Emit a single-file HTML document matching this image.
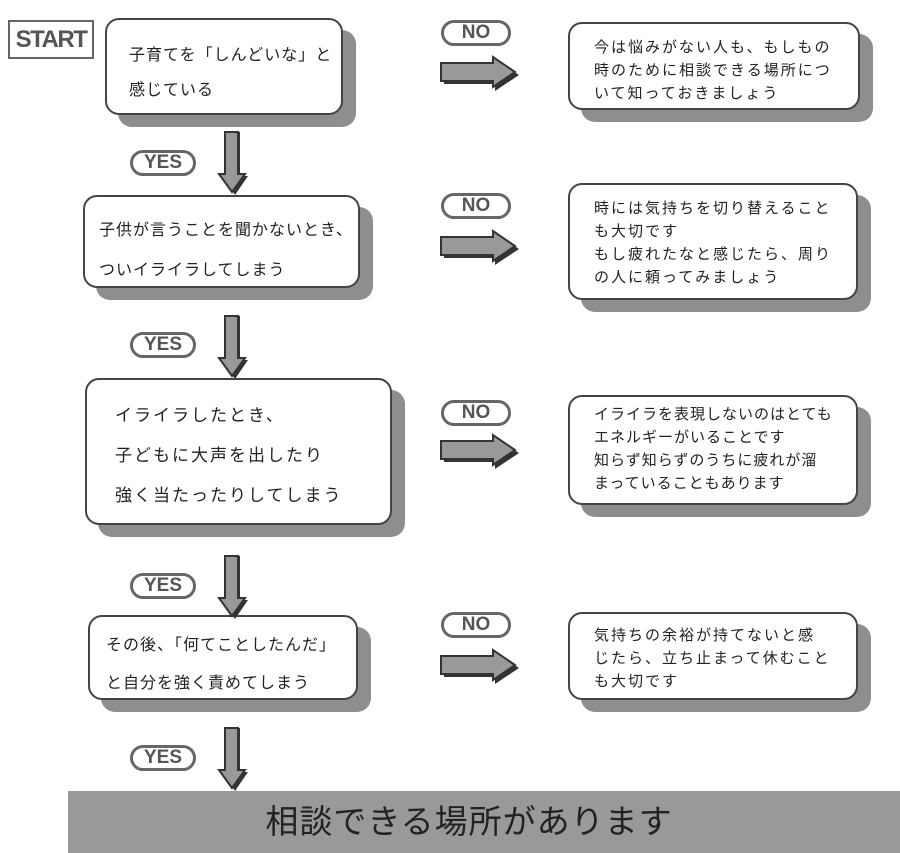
<!DOCTYPE html>
<html><head><meta charset="utf-8"><style>
body{margin:0;width:900px;height:853px;background:#fff;position:relative;overflow:hidden;font-family:"Liberation Sans","Noto Sans CJK JP",sans-serif;color:#222}
.a{position:absolute}
.box{position:absolute;background:#fff;border:2px solid #444;border-radius:14px;box-sizing:border-box;box-shadow:13px 12px 0 #8e8e8e;white-space:nowrap}
.pill{position:absolute;border:3px solid #666;border-radius:14px;box-sizing:border-box;font-size:19px;color:#555;text-align:center;line-height:19px;font-weight:bold}
.r{font-size:15px;line-height:23px;padding:12px 0 0 24px;letter-spacing:2px}
.l{font-size:16px;letter-spacing:1px}
</style></head><body>
<div class="a" style="left:8px;top:20px;width:86px;height:39px;border:2px solid #666;box-sizing:border-box;font-size:24px;font-weight:bold;color:#555;text-align:center;line-height:36px;letter-spacing:-1.5px">START</div>

<div class="box l" style="left:105px;top:18px;width:238px;height:97px;padding:18px 0 0 22px;line-height:35px">子育てを「しんどいな」と<br>感じている</div>
<div class="box l" style="left:83px;top:195px;width:277px;height:93px;padding:14px 0 0 14px;line-height:40px">子供が言うことを聞かないとき、<br>ついイライラしてしまう</div>
<div class="box" style="left:85px;top:378px;width:307px;height:147px;padding:16px 0 0 28px;font-size:17px;line-height:40px;letter-spacing:2px">イライラしたとき、<br>子どもに大声を出したり<br>強く当たったりしてしまう</div>
<div class="box l" style="left:88px;top:615px;width:270px;height:85px;padding:10px 0 0 16px;line-height:38px">その後、「何てことしたんだ」<br>と自分を強く責めてしまう</div>

<div class="box r" style="left:568px;top:22px;width:292px;height:88px">今は悩みがない人も、もしもの<br>時のために相談できる場所につ<br>いて知っておきましょう</div>
<div class="box r" style="left:568px;top:183px;width:290px;height:117px;padding-top:12px">時には気持ちを切り替えること<br>も大切です<br>もし疲れたなと感じたら、周り<br>の人に頼ってみましょう</div>
<div class="box r" style="left:568px;top:395px;width:290px;height:110px;padding-top:6px;letter-spacing:1px">イライラを表現しないのはとても<br>エネルギーがいることです<br>知らず知らずのうちに疲れが溜<br>まっていることもあります</div>
<div class="box r" style="left:568px;top:612px;width:290px;height:88px;padding-top:10px">気持ちの余裕が持てないと感<br>じたら、立ち止まって休むこと<br>も大切です</div>

<div class="pill" style="left:441px;top:20px;width:70px;height:26px">NO</div>
<div class="pill" style="left:441px;top:193px;width:70px;height:26px">NO</div>
<div class="pill" style="left:441px;top:400px;width:70px;height:26px">NO</div>
<div class="pill" style="left:441px;top:612px;width:70px;height:26px">NO</div>
<div class="pill" style="left:130px;top:150px;width:66px;height:26px">YES</div>
<div class="pill" style="left:130px;top:332px;width:66px;height:26px">YES</div>
<div class="pill" style="left:130px;top:573px;width:66px;height:26px">YES</div>
<div class="pill" style="left:130px;top:745px;width:66px;height:26px">YES</div>

<svg class="a" style="left:0;top:0" width="900" height="853">
<defs>
<g id="ra"><polygon points="3,9 54,9 54,2 78,18 54,34 54,27 3,27" fill="#333"/><polygon points="0,6 52,6 52,0 74,15 52,30 52,24 0,24" fill="#999" stroke="#333" stroke-width="2"/></g>
<g id="da"><polygon points="13,0 22,0 22,44 30,44 17,63 4,44 13,44" fill="#333"/><polygon points="7,0 20,0 20,42 27,42 14,60 1,42 7,42" fill="#999" stroke="#333" stroke-width="2"/></g>
</defs>
<use href="#ra" x="441" y="57"/>
<use href="#ra" x="441" y="231"/>
<use href="#ra" x="441" y="435"/>
<use href="#ra" x="441" y="650"/>
<use href="#da" x="218" y="132"/>
<use href="#da" x="218" y="316"/>
<use href="#da" x="218" y="556"/>
<use href="#da" x="218" y="728"/>
</svg>

<div class="a" style="left:68px;top:791px;width:832px;height:62px;background:#999;font-size:33px;line-height:62px;text-align:center;color:#222;letter-spacing:1px;padding-right:30px;box-sizing:border-box">相談できる場所があります</div>
</body></html>
